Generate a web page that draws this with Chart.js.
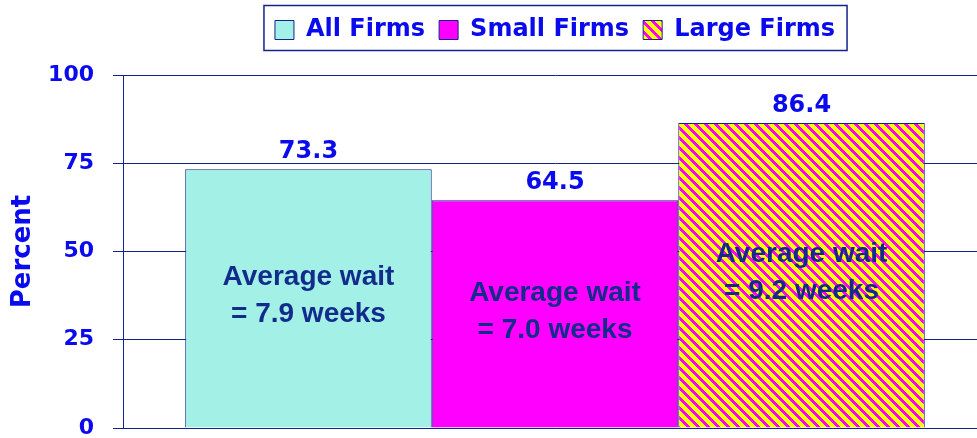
<!DOCTYPE html>
<html>
<head>
<meta charset="utf-8">
<script src="https://cdn.jsdelivr.net/npm/chart.js@4/dist/chart.umd.min.js"></script>
<style>
  html, body { margin: 0; padding: 0; background: #fff; overflow: hidden; }
  #wrap { width: 987px; height: 438px; }
</style>
</head>
<body>
<div id="wrap"><canvas id="chart" width="987" height="438"></canvas></div>
<script>
// chart data
const seriesNames = ['All Firms', 'Small Firms', 'Large Firms']
const percentValues = [73.3, 64.5, 86.4]
const waitWeeks = ['7.9', '7.0', '9.2']
const yTicks = [0, 25, 50, 75, 100]

const NAVY = '#15228a'
const BLUE = '#0a0aee'
const INNER = '#132c8c'

// yellow / magenta diagonal stripes for the large firms bar
function stripes() {
  const size = 10
  const c = document.createElement('canvas')
  c.width = size
  c.height = size
  const ctx = c.getContext('2d')
  for (let x = 0; x < size; x++) {
    for (let y = 0; y < size; y++) {
      const phase = ((x - y) % size + size) % size
      ctx.fillStyle = phase < 4 ? '#ff00ff' : '#ffff00'
      ctx.fillRect(x, y, 1, 1)
    }
  }
  return ctx.createPattern(c, 'repeat')
}

const ctx = document.querySelector('#chart').getContext('2d')
const fills = ['#a2f0e6', '#ff00ff', stripes()]

const barText = {
  id: 'barText',
  beforeLayout(chart) {
    // leave a gap under the legend
    const lg = chart.legend
    if (lg && !lg._gap) {
      const fit = lg.fit.bind(lg)
      lg.fit = function () { fit(); this.height += 23 }
      lg._gap = true
    }
  },
  afterDatasetsDraw(chart) {
    const c = chart.ctx
    c.save()
    c.textAlign = 'center'
    chart.data.datasets.forEach((ds, i) => {
      const bar = chart.getDatasetMeta(i).data[0]
      // value above the bar
      c.fillStyle = BLUE
      c.font = 'bold 24px "DejaVu Sans"'
      c.textBaseline = 'alphabetic'
      c.fillText(ds.data[0].toFixed(1), bar.x, bar.y - 11)
      // wait text inside the bar
      const mid = (bar.y + bar.base) / 2 - 3
      c.fillStyle = INNER
      c.font = 'bold 28px "Liberation Sans"'
      c.textBaseline = 'middle'
      c.fillText('Average wait', bar.x, mid - 18)
      c.fillText('= ' + waitWeeks[i] + ' weeks', bar.x, mid + 19)
    })
    c.restore()
  },
  afterDraw(chart) {
    const boxes = chart.legend.legendHitBoxes
    if (!boxes || !boxes.length) return
    const left = Math.min(...boxes.map(b => b.left)) - 11
    const right = Math.max(...boxes.map(b => b.left + b.width)) + 12
    const c = chart.ctx
    c.save()
    c.strokeStyle = NAVY
    c.lineWidth = 1.5
    c.strokeRect(left, 5.5, right - left, 45)
    c.restore()
  }
}

new Chart(ctx, {
  type: 'bar',
  data: {
    labels: [''],
    datasets: seriesNames.map((name, i) => ({
      label: name,
      data: [percentValues[i]],
      backgroundColor: fills[i],
      borderColor: NAVY,
      borderWidth: 1,
      categoryPercentage: 0.856,
      barPercentage: 1
    }))
  },
  options: {
    responsive: false,
    animation: false,
    layout: { padding: { top: 4, right: 0, left: 0, bottom: 0 } },
    plugins: {
      tooltip: { enabled: false },
      legend: {
        position: 'top',
        fullSize: false,
        labels: {
          color: BLUE,
          font: { family: 'DejaVu Sans', weight: 'bold', size: 24 },
          boxWidth: 19,
          boxHeight: 19,
          padding: 14
        }
      }
    },
    scales: {
      x: {
        ticks: { display: false },
        grid: { display: false },
        border: { color: NAVY },
        afterFit(scale) { scale.height = 10 }
      },
      y: {
        min: 0,
        max: 100,
        afterBuildTicks(scale) { scale.ticks = yTicks.map(v => ({ value: v })) },
        ticks: {
          color: BLUE,
          font: { family: 'DejaVu Sans', weight: 'bold', size: 22 },
          padding: 19
        },
        grid: { color: NAVY, tickColor: NAVY, tickLength: 10, lineWidth: 1 },
        border: { color: NAVY, width: 1 },
        title: {
          display: true,
          text: 'Percent',
          color: BLUE,
          font: { family: 'DejaVu Sans', weight: 'bold', size: 26 },
          padding: { top: 8, bottom: 0 }
        },
        afterFit(scale) {
          scale.width = 123
          scale.paddingBottom = 0
        }
      }
    }
  },
  plugins: [barText]
})
</script>
</body>
</html>
